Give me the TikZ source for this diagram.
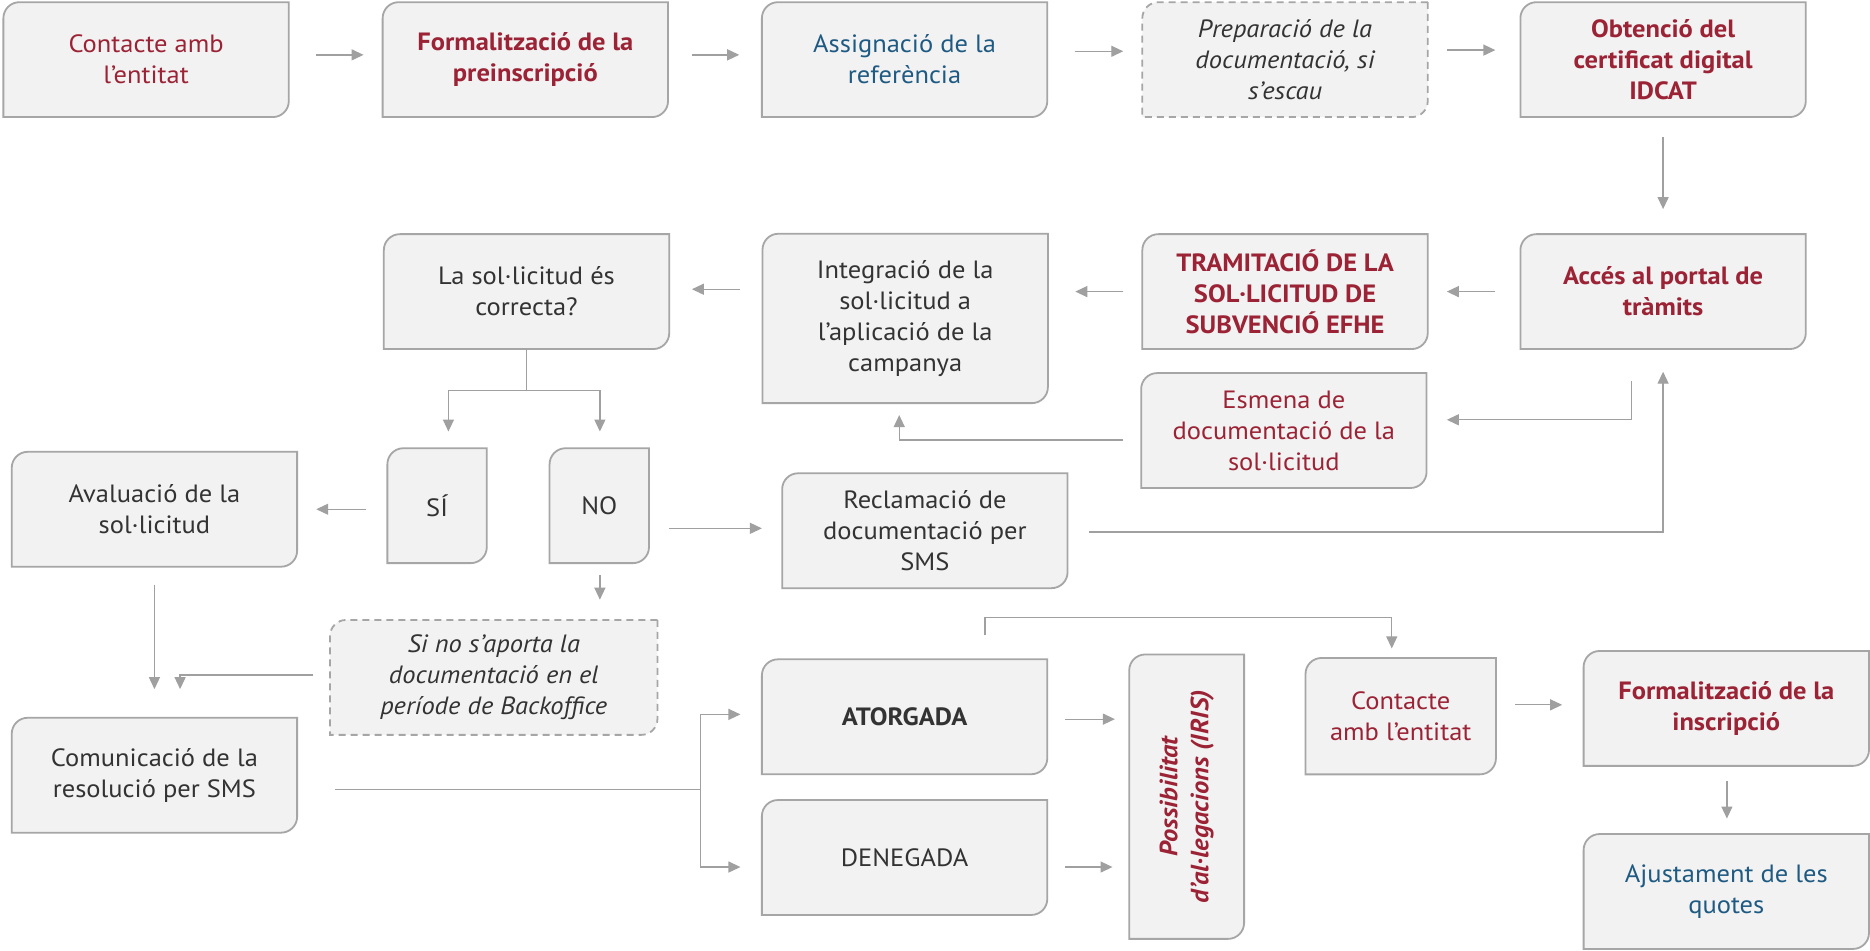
\documentclass[tikz,border=0pt]{standalone}
\usepackage{fontspec}
\setmainfont{PT Sans}[FakeStretch=1.06]
\usetikzlibrary{arrows.meta,calc,backgrounds}
\definecolor{boxfill}{HTML}{F2F2F2}
\definecolor{boxline}{HTML}{A6A6A6}
\definecolor{arrgray}{HTML}{A0A0A0}
\definecolor{tred}{HTML}{9B2335}
\definecolor{tblue}{HTML}{1F5A82}
\definecolor{tdark}{HTML}{333333}
\tikzset{
  bx/.style={rectangle, inner sep=0pt, minimum width=285pt, minimum height=114.5pt,
    align=center, font=\fontsize{25}{31}\selectfont, text=tdark},
  txtred/.style={text=tred},
  txtblue/.style={text=tblue},
  bld/.style={font=\fontsize{25}{31}\selectfont\bfseries},
  itl/.style={font=\fontsize{25}{31}\selectfont\itshape},
  arr/.style={draw=arrgray, line width=1.3pt, -{Triangle[length=12pt,width=11pt]}},
  ln/.style={draw=arrgray, line width=1.3pt},
  shp/.style={draw=boxline, fill=boxfill, line width=1.8pt},
  dsh/.style={dash pattern=on 7pt off 5pt}
}
\newcommand\rb[2][]{\path[shp,#1] (#2.north east) -- ([xshift=16pt]#2.north west)
  arc[start angle=90,end angle=180,radius=16pt] -- (#2.south west) --
  ([xshift=-16pt]#2.south east) arc[start angle=270,end angle=360,radius=16pt] -- cycle;}
\begin{document}
\begin{tikzpicture}[x=1.1926pt,y=-1.1926pt]
\useasboundingbox (0,0) rectangle (1568,797);
% row 1
\node[bx,txtred] (c1) at (122.5,50) {Contacte amb\\l’entitat};
\node[bx,bld,txtred] (f1) at (440.5,50) {Formalització de la\\preinscripció};
\node[bx,txtblue] (as) at (758.5,50) {Assignació de la\\referència};
\node[bx,itl] (pr) at (1077.5,50) {Preparació de la\\documentació, si\\s’escau};
\node[bx,bld,txtred] (ob) at (1394.5,50) {Obtenció del\\certificat digital\\IDCAT};
% row 2
\node[bx,bld,txtred] (ac) at (1394.5,244.5) {Accés al portal de\\tràmits};
\node[bx,bld,txtred] (tr) at (1077.5,244.5) {TRAMITACIÓ DE LA\\SOL·LICITUD DE\\SUBVENCIÓ EFHE};
\node[bx,minimum height=169pt] (in) at (759,267) {Integració de la\\sol·licitud a\\l’aplicació de la\\campanya};
\node[bx] (lc) at (441.5,244.5) {La sol·licitud és\\correcta?};
\node[bx,txtred] (es) at (1076.5,361) {Esmena de\\documentació de la\\sol·licitud};
% row 3
\node[bx,minimum width=99pt] (si) at (366.5,424) {SÍ};
\node[bx,minimum width=99pt] (no) at (502.5,424) {NO};
\node[bx] (av) at (129.5,427) {Avaluació de la\\sol·licitud};
\node[bx] (re) at (775.5,445) {Reclamació de\\documentació per\\SMS};
\node[bx,itl,minimum width=327pt] (sn) at (414,568) {Si no s’aporta la\\documentació en el\\període de Backoffice};
% row 4
\node[bx] (co) at (129.5,650) {Comunicació de la\\resolució per SMS};
\node[bx,bld] (at) at (758.5,601) {ATORGADA};
\node[bx] (de) at (758.5,719) {DENEGADA};
\node[bx,txtred,minimum width=114.5pt,minimum height=284pt,font=\fontsize{25}{31}\selectfont\bfseries\itshape] (po) at (995,668)
  {\rotatebox{90}{\begin{tabular}{@{}c@{}}Possibilitat\\d'al·legacions (IRIS)\end{tabular}}};
\node[bx,txtred,minimum width=190pt,minimum height=116pt] (c2) at (1174.5,600.5) {Contacte\\amb l’entitat};
\node[bx,bld,txtred] (f2) at (1447.5,594) {Formalització de la\\inscripció};
\node[bx,txtblue] (aj) at (1447.5,747.5) {Ajustament de les\\quotes};
% connectors
\draw[arr] ($(c1.east)+(23,-4)$) -- ($(f1.west)+(-16,-4)$);
\draw[arr] ($(f1.east)+(20,-4)$) -- ($(as.west)+(-19,-4)$);
\draw[arr] ($(as.east)+(23,-7)$) -- ($(pr.west)+(-16,-7)$);
\draw[arr] ($(pr.east)+(16,-8)$) -- ($(ob.west)+(-21,-8)$);
\draw[arr] ($(ob.south)+(0,17)$) -- ($(ac.north)+(0,-21)$);
\draw[arr] ($(ac.west)+(-21,0)$) -- ($(tr.east)+(16,0)$);
\draw[arr] ($(tr.west)+(-16,0)$) -- ($(in.east |- tr.west)+(23,0)$);
\draw[arr] ($(in.west |- lc.east)+(-19,-2)$) -- ($(lc.east)+(19,-2)$);
\draw[arr] ($(ac.south)+(-26.5,27)$) |- ($(es.east)+(17,-9)$);
\draw[arr] ($(es.west)+(-15,8)$) -| ($(in.south)+(-5,10)$);
\draw[arr] ($(re.east)+(18,1)$) -| ($(ac.south)+(0,19)$);
\coordinate (j1) at ($(lc.south)+(0,35)$);
\draw[ln] (lc.south) -- (j1);
\draw[arr] (j1) -| ($(si.north)+(9.5,-14)$);
\draw[arr] (j1) -| ($(no.north)+(0.5,-14)$);
\draw[arr] ($(si.west)+(-18,3)$) -- ($(av.east)+(16,0)$);
\draw[arr] ($(no.east)+(17,19)$) -- ($(re.west)+(-17,-2)$);
\draw[arr] ($(no.south)+(0.5,10)$) -- ($(sn.north)+(89,-17)$);
\draw[arr] ($(av.south)+(0,15)$) -- ($(co.north)+(0,-24)$);
\draw[arr] ($(sn.west)+(-14,-2)$) -| ($(co.north)+(21.5,-24)$);
\coordinate (j2) at ($(co.east)+(338,12)$);
\draw[ln] ($(co.east)+(32,12)$) -- (j2);
\draw[arr] (j2) |- ($(at.west)+(-18,-2)$);
\draw[arr] (j2) |- ($(de.west)+(-18,8)$);
\draw[arr] ($(at.east)+(15,2)$) -- ($(po.west |- at.east)+(-12,2)$);
\draw[arr] ($(de.east)+(15,8)$) -- ($(po.west |- de.east)+(-14,8)$);
\draw[arr] ($(at.north)+(67.5,-20)$) |- ($(c2.north)+(-7.5,-34)$) -- ($(c2.north)+(-7.5,-8)$);
\draw[arr] ($(c2.east)+(16,-9.5)$) -- ($(f2.west)+(-18,-3)$);
\draw[arr] ($(f2.south)+(0.5,13)$) -- ($(aj.north)+(0.5,-13)$);
% box shapes
\begin{scope}[on background layer]
\fill[white] (0,0) rectangle (1568,797);
\foreach \n in {c1,f1,as,ob,ac,tr,in,lc,es,si,no,av,re,co,at,de,po,c2,f2,aj} {\rb{\n}}
\rb[dsh]{pr}
\rb[dsh]{sn}
\end{scope}
\end{tikzpicture}
\end{document}
